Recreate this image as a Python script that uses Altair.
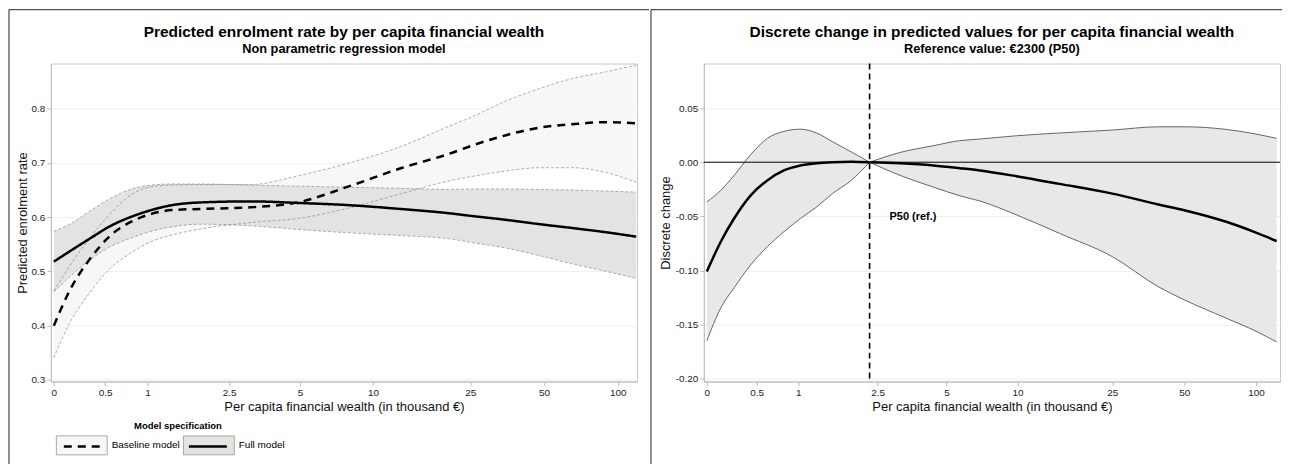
import math
import altair as alt
import pandas as pd

# ---------------- data ----------------
models = ["Baseline model", "Full model"]

# left panel: predicted enrolment rate
wealth_left = [0, 0.15, 0.35, 0.55, 0.8, 1.05, 1.35, 1.85, 3.1, 5, 8, 13, 20.6, 25.5, 35, 48, 65, 90, 119]
base_pred = [0.400, 0.465, 0.524, 0.565, 0.592, 0.606, 0.613, 0.615, 0.618, 0.628, 0.657, 0.690, 0.717, 0.732, 0.751, 0.765, 0.771, 0.775, 0.773]
base_lo = [0.341, 0.405, 0.462, 0.505, 0.535, 0.555, 0.567, 0.578, 0.590, 0.598, 0.617, 0.643, 0.667, 0.675, 0.685, 0.691, 0.691, 0.682, 0.664]
base_hi = [0.464, 0.510, 0.563, 0.605, 0.642, 0.656, 0.659, 0.660, 0.660, 0.677, 0.700, 0.730, 0.768, 0.785, 0.814, 0.837, 0.855, 0.868, 0.880]
full_pred = [0.518, 0.537, 0.561, 0.583, 0.601, 0.613, 0.622, 0.627, 0.629, 0.626, 0.622, 0.615, 0.607, 0.602, 0.595, 0.587, 0.580, 0.572, 0.564]
full_lo = [0.462, 0.490, 0.522, 0.545, 0.562, 0.574, 0.582, 0.587, 0.584, 0.577, 0.571, 0.566, 0.560, 0.553, 0.543, 0.529, 0.514, 0.500, 0.487]
full_hi = [0.574, 0.587, 0.612, 0.634, 0.652, 0.659, 0.661, 0.661, 0.659, 0.657, 0.655, 0.653, 0.651, 0.652, 0.652, 0.651, 0.650, 0.648, 0.646]

# right panel: discrete change vs. reference value
wealth_right = [0, 0.135, 0.266, 0.436, 0.617, 0.814, 1.03, 1.27, 1.53, 1.89, 2.3, 3.15, 4.4, 5.7, 6.93, 10, 15, 25, 39, 50, 75, 100, 122]
dc_pred = [-0.101, -0.0734, -0.052, -0.0306, -0.0168, -0.0076, -0.003, -0.001, 0.0, 0.0005, 0.0, -0.001, -0.003, -0.0055, -0.0076, -0.0131, -0.020, -0.029, -0.039, -0.0443, -0.055, -0.065, -0.0728]
dc_hi = [-0.0367, -0.026, -0.0122, 0.007, 0.022, 0.0285, 0.0305, 0.0269, 0.019, 0.0095, 0.0, 0.009, 0.0153, 0.0199, 0.0214, 0.0245, 0.027, 0.0297, 0.0327, 0.0327, 0.0303, 0.026, 0.022]
dc_lo = [-0.165, -0.1345, -0.116, -0.0948, -0.078, -0.0642, -0.052, -0.0413, -0.029, -0.0168, 0.0, -0.0122, -0.023, -0.031, -0.0358, -0.049, -0.0657, -0.0872, -0.115, -0.127, -0.144, -0.156, -0.166]

ref_value = [2.3]
ref_label = ["P50 (ref.)"]
ref_label_y = [-0.051]

x_ticks = [0, 0.5, 1, 2.5, 5, 10, 25, 50, 100]
left_y_ticks = [0.3, 0.4, 0.5, 0.6, 0.7, 0.8]
right_y_ticks = [-0.20, -0.15, -0.10, -0.05, 0.00, 0.05]

FONT = "Liberation Sans"
ASINH = "log(datum.w + sqrt(datum.w * datum.w + 1))"
x_tick_pos = [math.asinh(v) for v in x_ticks]
X_LABEL = "format((exp(datum.value) - exp(-datum.value)) / 2, '.4~g')"
XTITLE = "Per capita financial wealth (in thousand €)"

TITLE_STYLE = dict(fontSize=15.5, subtitleFontSize=12.8, fontWeight="bold", subtitleFontWeight="bold",
                   font=FONT, subtitleFont=FONT, color="black", subtitleColor="black",
                   anchor="middle", frame="group", offset=-47, subtitlePadding=3)

# ---------------- left panel ----------------
lx_scale = alt.Scale(domain=[-0.028, 5.48], nice=False, zero=False)
ly_scale = alt.Scale(domain=[0.297, 0.883], nice=False, zero=False)
lx_axis = alt.Axis(values=x_tick_pos, labelExpr=X_LABEL, grid=False, labelFlush=False, title=XTITLE, titlePadding=3)
ly_axis = alt.Axis(values=left_y_ticks, format=".1f", grid=True, title="Predicted enrolment rate", titlePadding=2)


def XL():
    return alt.X("xt:Q", scale=lx_scale, axis=lx_axis)


def YL(f):
    return alt.Y(f + ":Q", scale=ly_scale, axis=ly_axis)


base_band = pd.DataFrame({"w": wealth_left, "lo": base_lo, "hi": base_hi, "band_model": models[0]})
full_band = pd.DataFrame({"w": wealth_left, "lo": full_lo, "hi": full_hi, "band_model": models[1]})

# two identical legend layouts drawn on top of each other: filled key boxes + line keys
legend_common = dict(orient="none", legendX=20.5, legendY=359, direction="horizontal",
                     title="Model specification", titleFontSize=9.5, titleFontWeight="bold",
                     titleAnchor="middle", titlePadding=4, titleColor="black", titleFont=FONT,
                     labelFontSize=10, labelColor="black", labelFont=FONT, labelOffset=19.5,
                     columnPadding=1.5, symbolSize=400, padding=0)

fill_scale = alt.Scale(domain=models, range=["#f7f7f7", "#e3e3e3"])
fill_legend = alt.Legend(symbolType="M-2.55,-0.95H2.55V0.95H-2.55Z", symbolStrokeColor="#a8a8a8",
                         symbolStrokeWidth=1, symbolOpacity=1, **legend_common)
dash_models = [m + " " for m in models]
dash_legend = alt.Legend(symbolType="M-1.9,0H1.9", symbolStrokeColor="black",
                         symbolStrokeWidth=2.5, symbolFillColor="transparent",
                         labelExpr="trim(datum.label)",
                         labelOpacity=0, titleOpacity=0, **legend_common)

area_base = alt.Chart(base_band).transform_calculate(xt=ASINH).mark_area(interpolate="monotone").encode(
    x=XL(), y=YL("lo"), y2="hi:Q",
    fill=alt.Fill("band_model:N", scale=fill_scale, legend=fill_legend))
area_full = alt.Chart(full_band).transform_calculate(xt=ASINH).mark_area(interpolate="monotone").encode(
    x=XL(), y=YL("lo"), y2="hi:Q",
    fill=alt.Fill("band_model:N", scale=fill_scale, legend=fill_legend))

ci_rows = []
for name, vals in [("base_lo", base_lo), ("base_hi", base_hi), ("full_lo", full_lo), ("full_hi", full_hi)]:
    for w, v in zip(wealth_left, vals):
        ci_rows.append({"w": w, "v": v, "series": name})
ci_left = pd.DataFrame(ci_rows)
ci_lines = alt.Chart(ci_left).transform_calculate(xt=ASINH).mark_line(
    interpolate="monotone", color="#7a7a7a", strokeWidth=0.6, strokeDash=[3, 2]).encode(
    x=XL(), y=YL("v"), detail="series:N")

pred_rows = []
for name, vals in [(dash_models[0], base_pred), (dash_models[1], full_pred)]:
    for w, v in zip(wealth_left, vals):
        pred_rows.append({"w": w, "v": v, "line_model": name})
pred_left = pd.DataFrame(pred_rows)
pred_lines = alt.Chart(pred_left).transform_calculate(xt=ASINH).mark_line(
    interpolate="monotone", color="black", strokeWidth=2.5).encode(
    x=XL(), y=YL("v"),
    strokeDash=alt.StrokeDash("line_model:N", scale=alt.Scale(domain=dash_models, range=[[8, 6], [1, 0]]),
                              legend=dash_legend))

frame_df = pd.DataFrame({"k": [0]})
left_top = alt.Chart(frame_df).mark_rule(color="#222222", strokeWidth=1).encode(
    x=alt.value(-42), x2=alt.value(600), y=alt.value(-54))
left_side = alt.Chart(frame_df).mark_rule(color="#222222", strokeWidth=1).encode(
    x=alt.value(-42), y=alt.value(-54), y2=alt.value(402))

left = alt.layer(area_base, area_full, ci_lines, pred_lines, left_top, left_side).properties(
    width=588, height=319,
    title=alt.Title(text="Predicted enrolment rate by per capita financial wealth",
                    subtitle="Non parametric regression model", **TITLE_STYLE))

# ---------------- right panel ----------------
rx_scale = alt.Scale(domain=[-0.029, 5.53], nice=False, zero=False)
ry_scale = alt.Scale(domain=[-0.2025, 0.0911], nice=False, zero=False)
rx_axis = alt.Axis(values=x_tick_pos, labelExpr=X_LABEL, grid=False, labelFlush=False, title=XTITLE, titlePadding=3)
ry_axis = alt.Axis(values=right_y_ticks, grid=True, title="Discrete change", titlePadding=3,
                   labelExpr="datum.value < -0.0001 ? '-' + format(-datum.value, '.2f') : format(abs(datum.value), '.2f')")


def XR():
    return alt.X("xt:Q", scale=rx_scale, axis=rx_axis)


def YR(f):
    return alt.Y(f + ":Q", scale=ry_scale, axis=ry_axis)


rows = []
for w, p, lo, hi in zip(wealth_right, dc_pred, dc_lo, dc_hi):
    sides = []
    if w <= ref_value[0]:
        sides.append("below")
    if w >= ref_value[0]:
        sides.append("above")
    for s in sides:
        rows.append({"w": w, "pred": p, "lo": lo, "hi": hi, "side": s})
dc_df = pd.DataFrame(rows)

r_base = alt.Chart(dc_df).transform_calculate(xt=ASINH)
r_area = r_base.mark_area(interpolate="monotone", color="#e8e8e8").encode(
    x=XR(), y=YR("lo"), y2="hi:Q", detail="side:N")
r_lo = r_base.mark_line(interpolate="monotone", color="#555555", strokeWidth=0.9).encode(
    x=XR(), y=YR("lo"), detail="side:N")
r_hi = r_base.mark_line(interpolate="monotone", color="#555555", strokeWidth=0.9).encode(
    x=XR(), y=YR("hi"), detail="side:N")
r_zero = alt.Chart(pd.DataFrame({"zero": [0.0]})).mark_rule(color="black", strokeWidth=1).encode(
    y=YR("zero"))
r_pred = r_base.mark_line(interpolate="monotone", color="black", strokeWidth=2.5).encode(
    x=XR(), y=YR("pred"), detail="side:N")
r_ref = alt.Chart(pd.DataFrame({"w": ref_value})).transform_calculate(xt=ASINH).mark_rule(
    color="black", strokeWidth=1.6, strokeDash=[6, 4]).encode(x=XR())
r_text = alt.Chart(pd.DataFrame({"w": ref_value, "y": ref_label_y, "label": ref_label})).transform_calculate(
    xt=ASINH).mark_text(align="left", baseline="middle", dx=20, fontSize=11, fontWeight="bold",
                        font=FONT, color="black").encode(x=XR(), y=YR("y"), text="label:N")
right_sep = alt.Chart(frame_df).mark_rule(color="#222222", strokeWidth=1).encode(
    x=alt.value(-53), y=alt.value(-54), y2=alt.value(402))
right_top = alt.Chart(frame_df).mark_rule(color="#222222", strokeWidth=1).encode(
    x=alt.value(-53), x2=alt.value(580), y=alt.value(-54))

right = alt.layer(r_area, r_lo, r_hi, r_zero, r_pred, r_ref, r_text, right_sep, right_top).properties(
    width=578, height=319,
    title=alt.Title(text="Discrete change in predicted values for per capita financial wealth",
                    subtitle="Reference value: €2300 (P50)", **TITLE_STYLE))

chart = alt.hconcat(left, right, spacing=0).resolve_scale(
    x="independent", y="independent", fill="independent", strokeDash="independent").resolve_legend(
    fill="independent", strokeDash="independent").properties(padding=0).configure(
    font=FONT).configure_view(stroke="#c8c8c8", strokeWidth=1).configure_axis(
    domainColor="#bdbdbd", tickColor="#bdbdbd", tickSize=4, labelPadding=2,
    labelFontSize=10, labelColor="#222222", labelFont=FONT,
    titleFontSize=13, titleFontWeight="normal", titleColor="#111111", titleFont=FONT,
    gridColor="#eeeeee", gridWidth=1)

chart.save("out.html", embed_options={"renderer": "svg", "actions": False})
